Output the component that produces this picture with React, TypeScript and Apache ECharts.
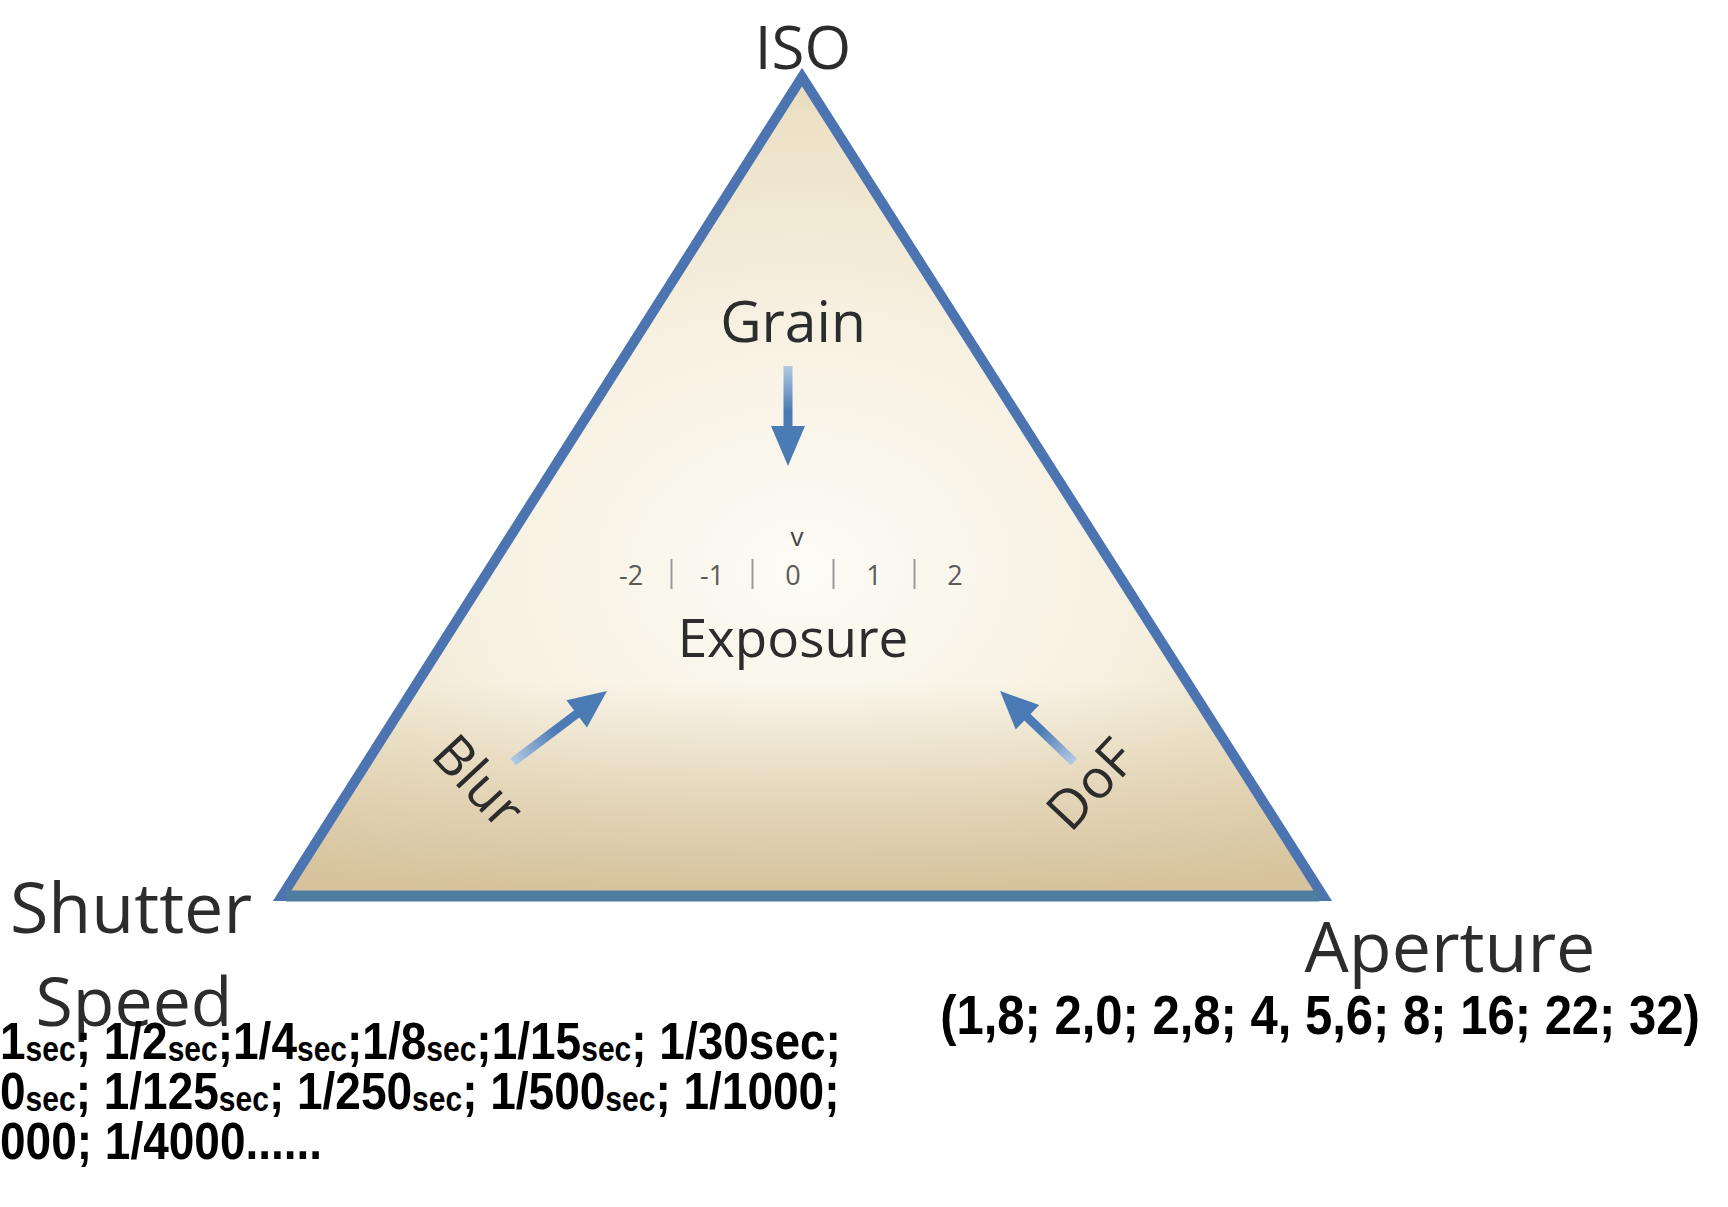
import React, { useEffect, useRef } from "react";
import * as echarts from "echarts";

// ---- content ----
const vertexLabels = ["ISO", "Shutter\nSpeed", "Aperture"];
const effectLabels = ["Grain", "Blur", "DoF"];
const exposureTitle = "Exposure";
const exposureMarker = "v";
const exposureTicks = ["-2", "-1", "0", "1", "2"];
const shutterLines = [
  "1_sec; 1/2_sec;1/4_sec;1/8_sec;1/15_sec; 1/30sec;",
  "0_sec; 1/125_sec; 1/250_sec; 1/500_sec; 1/1000;",
  "000; 1/4000......",
];
const apertureStops = ["1,8", "2,0", "2,8", "4, 5,6", "8", "16", "22", "32"];

// ---- layout ----
const APEX = [802, 77];
const BL = [282, 896];
const BR = [1323, 896];
const LABEL_FONT = "'Open Sans', 'Noto Sans', sans-serif";
const BOLD_FONT = "'Liberation Sans', Arial, sans-serif";
const TEXT_DARK = "#2c2c2c";
const SIDE_BLUE = "#4b74b1";
const BOTTOM_BLUE = "#4f7da0";
const ARROW_BLUE = "#4a7bb4";

function arrow(tail: number[], tip: number[], headLen: number, headW: number, width: number) {
  const dx = tip[0] - tail[0];
  const dy = tip[1] - tail[1];
  const len = Math.hypot(dx, dy);
  const ux = dx / len;
  const uy = dy / len;
  const bx = tip[0] - ux * headLen;
  const by = tip[1] - uy * headLen;
  const px = -uy;
  const py = ux;
  const grad = new echarts.graphic.LinearGradient(
    tail[0], tail[1], tip[0], tip[1],
    [
      { offset: 0, color: "#b3c9e3" },
      { offset: 0.45, color: ARROW_BLUE },
      { offset: 1, color: ARROW_BLUE },
    ],
    true
  );
  return [
    {
      type: "line",
      z: 5,
      shape: { x1: tail[0], y1: tail[1], x2: bx + ux * 4, y2: by + uy * 4 },
      style: { stroke: grad, lineWidth: width, lineCap: "butt" },
    },
    {
      type: "polygon",
      z: 5,
      shape: {
        points: [
          [tip[0], tip[1]],
          [bx + (px * headW) / 2, by + (py * headW) / 2],
          [bx - (px * headW) / 2, by - (py * headW) / 2],
        ],
      },
      style: { fill: ARROW_BLUE },
    },
  ];
}

function toRich(line: string) {
  const parts = line.split("_sec");
  return parts
    .map((p, i) => (p ? `{b|${p}}` : "") + (i < parts.length - 1 ? "{s|sec}" : ""))
    .join("");
}

function buildOption() {
  const elements: any[] = [];

  // triangle fill
  elements.push({
    type: "polygon",
    z: 1,
    shape: { points: [APEX, BR, BL] },
    style: {
      fill: new echarts.graphic.RadialGradient(0.5, 0.6, 0.72, [
        { offset: 0, color: "#fcfbf5" },
        { offset: 0.42, color: "#f7f1e2" },
        { offset: 0.74, color: "#ede2c8" },
        { offset: 1, color: "#e0ceab" },
      ]),
    },
  });
  elements.push({
    type: "polygon",
    z: 2,
    shape: { points: [APEX, BR, BL] },
    style: {
      fill: new echarts.graphic.LinearGradient(0, 0, 0, 1, [
        { offset: 0, color: "rgba(214,195,157,0)" },
        { offset: 0.74, color: "rgba(214,195,157,0)" },
        { offset: 0.9, color: "rgba(214,195,157,0.65)" },
        { offset: 1, color: "rgba(212,192,152,0.95)" },
      ]),
    },
  });
  // outline
  elements.push({
    type: "polygon",
    z: 3,
    shape: { points: [APEX, BR, BL] },
    style: { fill: "none", stroke: SIDE_BLUE, lineWidth: 10, lineJoin: "miter" },
  });
  elements.push({
    type: "line",
    z: 4,
    shape: { x1: BL[0] + 4, y1: BL[1], x2: BR[0] - 4, y2: BR[1] },
    style: { stroke: BOTTOM_BLUE, lineWidth: 11, lineCap: "butt" },
  });

  // vertex labels
  const labelStyle = (size: number) => ({
    fontFamily: LABEL_FONT,
    fontSize: size,
    fill: TEXT_DARK,
    align: "center",
    verticalAlign: "middle",
  });
  elements.push({ type: "text", z: 6, x: 803, y: 46, style: { ...labelStyle(60), text: vertexLabels[0] } });
  const [shutterWord, speedWord] = vertexLabels[1].split("\n");
  elements.push({ type: "text", z: 6, x: 131, y: 906, style: { ...labelStyle(70), text: shutterWord } });
  elements.push({ type: "text", z: 6, x: 134, y: 999, style: { ...labelStyle(68), text: speedWord } });
  elements.push({ type: "text", z: 6, x: 1450, y: 945, style: { ...labelStyle(70), text: vertexLabels[2] } });

  // effects
  elements.push({ type: "text", z: 6, x: 793, y: 320, style: { ...labelStyle(57), text: effectLabels[0] } });
  elements.push(...arrow([788, 366], [788, 466], 40, 34, 9));
  elements.push({
    type: "text", z: 6, x: 480, y: 780, rotation: (-47 * Math.PI) / 180,
    style: { ...labelStyle(54), text: effectLabels[1] },
  });
  elements.push(...arrow([513, 762], [607, 691], 38, 34, 9));
  elements.push({
    type: "text", z: 6, x: 1089, y: 783, rotation: (47 * Math.PI) / 180,
    style: { ...labelStyle(54), text: effectLabels[2] },
  });
  elements.push(...arrow([1074, 762], [1000, 691], 38, 34, 9));

  // exposure scale
  const cx = 793;
  const step = 81;
  const scaleY = 574;
  elements.push({
    type: "text", z: 6, x: cx + 4, y: 536,
    style: { ...labelStyle(26), fill: "#444", text: exposureMarker },
  });
  exposureTicks.forEach((t, i) => {
    const x = cx + (i - (exposureTicks.length - 1) / 2) * step;
    elements.push({
      type: "text", z: 6, x, y: scaleY,
      style: { ...labelStyle(27), fill: "#5a5a5a", text: t },
    });
    if (i < exposureTicks.length - 1) {
      elements.push({
        type: "line", z: 6,
        shape: { x1: x + step / 2, y1: scaleY - 15, x2: x + step / 2, y2: scaleY + 15 },
        style: { stroke: "#9a9a9a", lineWidth: 2 },
      });
    }
  });
  elements.push({ type: "text", z: 6, x: cx, y: 636, style: { ...labelStyle(53), text: exposureTitle } });

  // bottom notes
  shutterLines.forEach((line, i) => {
    elements.push({
      type: "text", z: 6, x: 0, y: 1040 + i * 50, scaleY: 1.14,
      style: {
        text: toRich(line),
        align: "left",
        verticalAlign: "middle",
        fontFamily: BOLD_FONT,
        fontSize: 46,
        fontWeight: "bold",
        fill: "#000",
        rich: {
          b: { fontFamily: BOLD_FONT, fontSize: 46, fontWeight: "bold", fill: "#000", lineHeight: 46, verticalAlign: "bottom" },
          s: { fontFamily: BOLD_FONT, fontSize: 30, fontWeight: "bold", fill: "#000", lineHeight: 36, verticalAlign: "bottom" },
        },
      },
    });
  });
  elements.push({
    type: "text", z: 6, x: 1320, y: 1014, scaleY: 1.14,
    style: {
      text: "(" + apertureStops.join("; ") + ")",
      align: "center",
      verticalAlign: "middle",
      fontFamily: BOLD_FONT,
      fontSize: 49,
      fontWeight: "bold",
      fill: "#000",
    },
  });

  return {
    animation: false,
    backgroundColor: "#ffffff",
    graphic: { elements },
  };
}

export default function App() {
  const ref = useRef<HTMLDivElement>(null);
  useEffect(() => {
    document.body.style.margin = "0";
    const chart = echarts.init(ref.current!, null, { renderer: "svg" });
    chart.setOption(buildOption() as any);
    return () => chart.dispose();
  }, []);
  return <div ref={ref} style={{ width: 1728, height: 1207, background: "#fff" }} />;
}
